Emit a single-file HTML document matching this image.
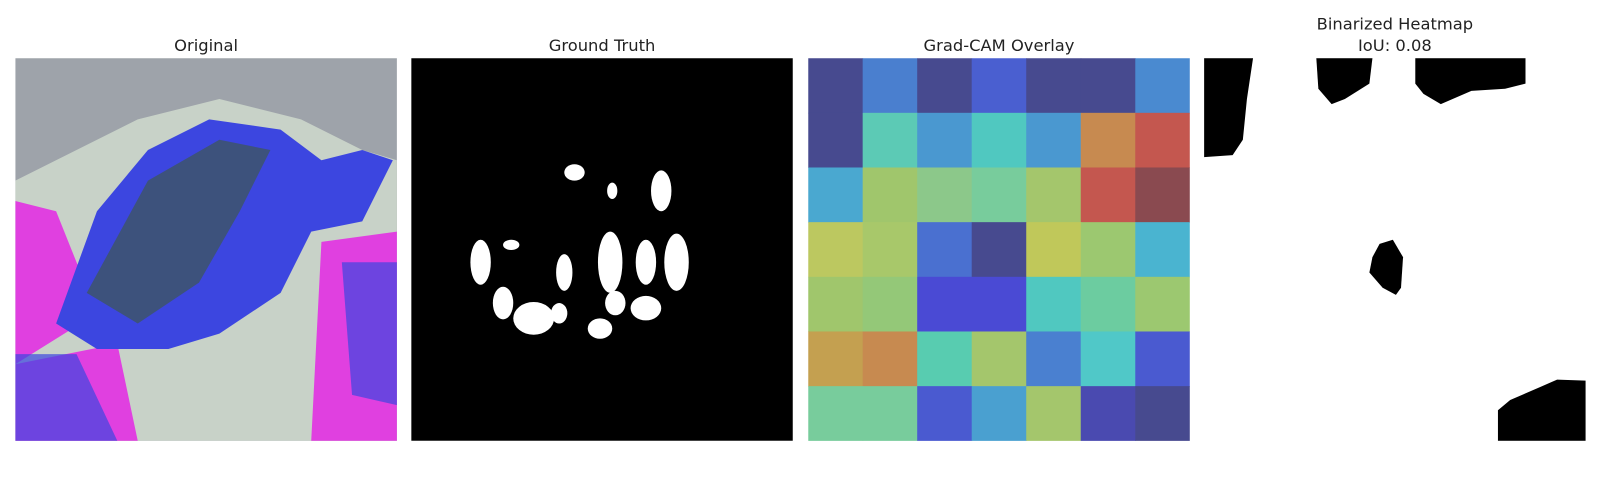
<!DOCTYPE html>
<html><head><meta charset="utf-8"><style>
body{margin:0;background:#fff;width:1600px;height:500px;overflow:hidden;font-family:"DejaVu Sans","Liberation Sans",sans-serif}
#wrap{position:absolute;left:0;top:0;width:1568px;height:490px;transform:scale(1.0204);transform-origin:0 0}
.t{position:absolute;font-size:16px;color:#222;text-align:center;width:374px}
svg{position:absolute}
</style></head><body>
<div id="wrap">
<div class="t" style="left:15px;top:35px">Original</div>
<div class="t" style="left:403px;top:35px">Ground Truth</div>
<div class="t" style="left:792px;top:35px">Grad-CAM Overlay</div>
<div class="t" style="left:1180px;top:13px;line-height:21px">Binarized Heatmap<br>IoU: 0.08</div>

<svg style="left:15px;top:57px" width="374" height="375">
<rect width="374" height="375" fill="#9ea3aa"/>
<path d="M0,120 L60,90 L120,60 L200,40 L280,60 L340,90 L374,100 L374,375 L0,375Z" fill="#c8d2c8"/>
<path d="M0,140 L40,150 L80,250 L0,300Z" fill="#e040e0"/>
<path d="M300,180 L374,170 L374,375 L290,375Z" fill="#e040e0"/>
<path d="M0,300 L100,280 L120,375 L0,375Z" fill="#e040e0"/>
<path d="M40,260 L80,150 L130,90 L190,60 L260,70 L300,100 L340,90 L370,100 L340,160 L290,170 L260,230 L200,270 L150,285 L80,285Z" fill="#3c46e0"/>
<path d="M70,230 L130,120 L200,80 L250,90 L220,150 L180,220 L120,260Z" fill="#3e5a38" opacity="0.6"/>
<path d="M0,290 L60,290 L100,375 L0,375Z" fill="#3c46e0" opacity="0.7"/>
<path d="M320,200 L374,200 L374,340 L330,330Z" fill="#3c46e0" opacity="0.7"/>
</svg>

<svg style="left:403px;top:57px" width="374" height="375" fill="#fff">
<rect width="374" height="375" fill="#000"/>
<ellipse cx="160" cy="112" rx="10" ry="8"/><ellipse cx="197" cy="130" rx="5" ry="8"/>
<ellipse cx="245" cy="130" rx="10" ry="20"/><ellipse cx="68" cy="200" rx="10" ry="22"/>
<ellipse cx="98" cy="183" rx="8" ry="5"/><ellipse cx="90" cy="240" rx="10" ry="16"/>
<ellipse cx="120" cy="255" rx="20" ry="16"/><ellipse cx="150" cy="210" rx="8" ry="18"/>
<ellipse cx="145" cy="250" rx="8" ry="10"/><ellipse cx="195" cy="200" rx="12" ry="30"/>
<ellipse cx="230" cy="200" rx="10" ry="22"/><ellipse cx="260" cy="200" rx="12" ry="28"/>
<ellipse cx="230" cy="245" rx="15" ry="12"/><ellipse cx="185" cy="265" rx="12" ry="10"/>
<ellipse cx="200" cy="240" rx="10" ry="12"/>
</svg>

<svg id="cam" style="left:792px;top:57px" width="374" height="375"></svg>

<svg style="left:1180px;top:57px" width="374" height="375" fill="#000">
<rect width="374" height="375" fill="#fff"/>
<path d="M0,0 L48,0 L42,40 L38,80 L28,95 L0,97Z"/>
<path d="M110,0 L165,0 L162,25 L138,40 L125,45 L112,30Z"/>
<path d="M207,0 L315,0 L315,25 L295,30 L262,32 L232,45 L215,35 L207,25Z"/>
<path d="M172,182 L185,178 L195,195 L193,225 L188,232 L175,225 L162,210 L165,195Z"/>
<path d="M288,375 L288,345 L300,335 L330,322 L346,315 L374,316 L374,375Z"/>
</svg>
</div>
<script>
const camRows=[
["#474a8f","#4a7fcf","#474a8f","#4a5fd0","#474a8f","#474a8f","#4a8ad0"],
["#474a8f","#5ccab5","#4a98d0","#50c8c0","#4a98d0","#c78a50","#c4574f"],
["#4aa8d0","#a0c66c","#8cc88a","#78cc9c","#a4c66c","#c4574f","#8a4a50"],
["#bcc860","#a8c86a","#4a70d0","#474a8f","#c0c85a","#9cc870","#4ab4d0"],
["#a0c66c","#94c878","#4a4ad4","#4a4ad4","#50c8c0","#6ccca0","#9cc870"],
["#c4a050","#c78a50","#58ccb0","#a4c66c","#4a80d0","#50c8c8","#4a5ad0"],
["#78cc9c","#78cc9c","#4a5ad0","#4aa0d0","#a4c66c","#4a4ab0","#474a8f"]];
const svg=document.getElementById('cam');
const cw=374/7,ch=375/7;
camRows.forEach((row,r)=>row.forEach((c,k)=>{
const el=document.createElementNS('http://www.w3.org/2000/svg','rect');
el.setAttribute('x',k*cw);el.setAttribute('y',r*ch);
el.setAttribute('width',cw+0.5);el.setAttribute('height',ch+0.5);
el.setAttribute('fill',c);


svg.appendChild(el);}));
</script>
</body></html>
